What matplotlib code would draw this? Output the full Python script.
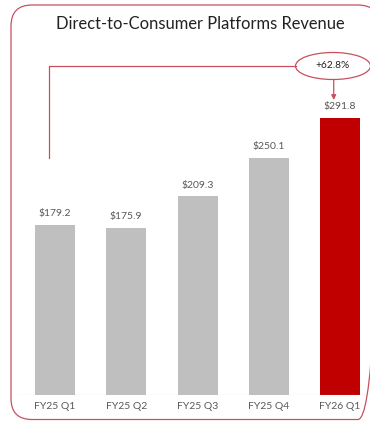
import numpy as np
import matplotlib.pyplot as plt
from matplotlib.patches import FancyBboxPatch, Ellipse

plt.rcParams['font.family'] = ['Lato', 'DejaVu Sans']

# data
quarters = ['FY25 Q1', 'FY25 Q2', 'FY25 Q3', 'FY25 Q4', 'FY26 Q1']
revenue = [179.2, 175.9, 209.3, 250.1, 291.8]
growth_label = '+62.8%'

grey = '#BFBFBF'
red = '#C00000'
frame_red = '#C8505E'

W, H = 370, 423
fig = plt.figure(figsize=(W / 100, H / 100), dpi=100)

# background axes in pixel units for the rounded frame
bg = fig.add_axes([0, 0, 1, 1], zorder=0)
bg.set_xlim(0, W)
bg.set_ylim(H, 0)
bg.axis('off')
bg.add_patch(FancyBboxPatch((11, 5), 368, 414.5,
                            boxstyle='round,pad=0,rounding_size=21',
                            fill=False, edgecolor=frame_red, linewidth=0.9,
                            clip_on=False))
bg.text(200, 24, 'Direct-to-Consumer Platforms Revenue',
        ha='center', va='center', fontsize=11.9, color='#222222')

base = (H - 395) / H
ax = fig.add_axes([0, base, 1, 1 - base], zorder=1)
ax.patch.set_alpha(0)
px_x = 71.25
px_y = 0.949
ax.set_xlim(-55 / px_x, (W - 55) / px_x)
ax.set_ylim(0, 395 / px_y)

x = np.arange(len(quarters))
colors = [grey] * 4 + [red]
ax.bar(x, revenue, width=40 / px_x, color=colors, zorder=2)

for xi, v in zip(x, revenue):
    ax.text(xi, v + 7, f'${v:.1f}', ha='center', va='bottom',
            fontsize=7.5, color='#595959')

ax.set_xticks(x)
ax.set_xticklabels(quarters, fontsize=7.5, color='#595959')
ax.tick_params(axis='x', length=0, pad=5)
ax.set_yticks([])
for s in ax.spines.values():
    s.set_visible(False)
ax.axhline(0, xmin=18 / W, xmax=1, color='#BFBFBF', linewidth=0.8)

# growth bracket
x0 = (49 - 55) / px_x
yh = (395 - 66) / px_y
ex, ew, eh = (333 - 55) / px_x, 75 / px_x, 27 / px_y
ax.plot([x0, x0, ex - ew / 2], [(395 - 158) / px_y, yh, yh],
        color=frame_red, linewidth=0.9, clip_on=False)
ax.add_patch(Ellipse((ex, yh), ew, eh, fill=True, facecolor='white',
                     edgecolor=frame_red, linewidth=0.9))
ax.text(ex, yh, growth_label, ha='center', va='center', fontsize=7.3,
        color='#222222')
ax.annotate('', xy=(ex + 0.01, (395 - 100) / px_y),
            xytext=(ex + 0.01, yh - eh / 2),
            arrowprops=dict(arrowstyle='-|>', color=frame_red, lw=0.9,
                            mutation_scale=7, shrinkA=0, shrinkB=0))

fig.savefig('out.png', dpi=100)
